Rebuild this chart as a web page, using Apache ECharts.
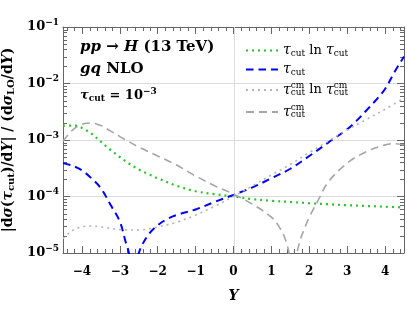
<!DOCTYPE html>
<html><head><meta charset="utf-8">
<script src="https://cdn.jsdelivr.net/npm/echarts@6/dist/echarts.min.js"></script>
<style>html,body{margin:0;padding:0;background:#fff}#c{width:407px;height:309px}</style>
</head><body><div id="c"></div>
<script>
// ---- data ----
const xTauLn = [-4.5,-4.25,-4.1,-3.9,-3.75,-3.5,-3.25,-3,-2.75,-2.5,-2.25,-2,-1.5,-1,-0.5,0,0.5,1,1.5,2,2.5,3,3.5,4,4.5];
const vTauLn = [1.8e-3,1.8e-3,1.75e-3,1.5e-3,1.3e-3,9.3e-4,6.7e-4,5.0e-4,3.8e-4,3.0e-4,2.5e-4,2.1e-4,1.55e-4,1.24e-4,1.1e-4,1.0e-4,9.0e-5,8.4e-5,8.0e-5,7.6e-5,7.3e-5,7.0e-5,6.8e-5,6.6e-5,6.4e-5];

const xTau = [-4.5,-4.25,-4,-3.75,-3.5,-3.25,-3,-2.85,-2.76,-2.7,-2.63,-2.56,-2.5,-2.25,-2,-1.75,-1.5,-1,-0.5,0,0.5,1,1.5,2,2.5,3,3.25,3.5,3.75,4,4.25,4.5];
const vTau = [3.9e-4,3.5e-4,2.9e-4,2.1e-4,1.4e-4,7.2e-5,3.6e-5,1.6e-5,1.0e-5,5e-6,5e-7,5e-6,1.0e-5,2.1e-5,3.1e-5,4.0e-5,4.7e-5,5.9e-5,8.0e-5,1.07e-4,1.45e-4,2.1e-4,3.1e-4,5.2e-4,9.0e-4,1.55e-3,2.2e-3,3.3e-3,5.0e-3,8.0e-3,1.6e-2,3.0e-2];

const xCmLn = [-4.5,-4.25,-4,-3.75,-3.5,-3,-2.5,-2,-1.5,-1,-0.5,0,0.5,1,1.5,2,2.5,3,3.5,4,4.5];
const vCmLn = [1.8e-5,2.5e-5,2.9e-5,3.0e-5,2.9e-5,2.6e-5,2.55e-5,2.9e-5,3.5e-5,4.7e-5,6.7e-5,1.0e-4,1.55e-4,2.4e-4,3.7e-4,6.0e-4,9.5e-4,1.5e-3,2.3e-3,3.5e-3,5.5e-3];

const xCm = [-4.5,-4.25,-4,-3.75,-3.5,-3.25,-3,-2.5,-2,-1.5,-1,-0.5,0,0.5,1,1.25,1.4,1.5,1.58,1.66,1.75,1.9,2,2.25,2.5,3,3.5,4,4.25,4.5];
const vCm = [9.5e-4,1.5e-3,1.9e-3,2.0e-3,1.8e-3,1.45e-3,1.15e-3,7.5e-4,5.2e-4,3.6e-4,2.3e-4,1.55e-4,1.1e-4,7.3e-5,4.3e-5,2.6e-5,1.5e-5,7e-6,5e-7,8e-6,1.6e-5,3.0e-5,4.3e-5,9.0e-5,1.8e-4,3.9e-4,6.2e-4,8.2e-4,8.6e-4,8.2e-4];

const seriesNames = ['tauLn','tau','cmLn','cm'];
const xMin = -4.5, xMax = 4.5, yMin = 1e-5, yMax = 1e-1;
const xGridLines = [0];
const yMinorTicks = [];
for (let e = -5; e <= -2; e++) for (let m = 2; m <= 9; m++) yMinorTicks.push(m * Math.pow(10, e));
const xMinorTicks = [];
for (let i = -22; i <= 22; i++) { if (i % 5 !== 0) xMinorTicks.push(i / 5); }

// ---- chart ----
const F = 'DejaVu Serif';
const AX = '#666';
const zip = (xs, vs) => xs.map((x, i) => [x, vs[i]]);
const chart = echarts.init(document.getElementById('c'), null, {renderer: 'canvas'});

const legendText = {
  tauLn: '{t|τ}{sb|cut}{n| ln }{t|τ}{sb|cut}',
  tau: '{t|τ}{sb|cut}',
  cmLn: '{t|τ}{sp|cm}{sb|cut}{n| ln }{t|τ}{sp|cm}{sb|cut}',
  cm: '{t|τ}{sp|cm}{sb|cut}'
};
const expLabel = v => {
  const e = Math.round(Math.log10(v));
  return '{b|10}{s|' + (e < 0 ? '−' + Math.abs(e) : e) + '}';
};

const tickData = yMinorTicks.map(v => [xMin, v, 0])
  .concat(xMinorTicks.map(v => [v, yMin, 1]))
  .concat(xGridLines.map(v => [v, yMin, 2]));

const lineSeries = (name, xs, vs, color, width, dash) => ({
  name, type: 'line', data: zip(xs, vs), symbol: 'none', showSymbol: false, smooth: 0.35,
  lineStyle: {color, width, type: dash, cap: 'butt'}, itemStyle: {color},
  z: 3, silent: true
});
const axisLine = {show: true, onZero: false, lineStyle: {color: AX, width: 1}};
const axisTick = {inside: true, length: 7, lineStyle: {color: AX}};

chart.setOption({
  animation: false,
  grid: {left: 63, right: 3, top: 27, bottom: 56, outerBoundsMode: 'none', containLabel: false},
  xAxis: [{
    type: 'value', min: xMin, max: xMax, splitNumber: 9,
    axisLine, axisTick, splitLine: {show: false},
    axisLabel: {showMinLabel: false, showMaxLabel: false, margin: 13, color: '#000',
      fontFamily: F, fontWeight: 'bold', fontSize: 12,
      formatter: v => (v < 0 ? '−' + Math.abs(v) : '' + v)},
    name: 'Y', nameLocation: 'middle', nameGap: 36,
    nameTextStyle: {fontFamily: F, fontWeight: 'bold', fontStyle: 'italic', fontSize: 14, color: '#000'}
  }, {
    type: 'value', min: xMin, max: xMax, splitNumber: 9, position: 'top',
    axisLine, axisTick, axisLabel: {show: false}, splitLine: {show: false}
  }],
  yAxis: [{
    type: 'log', logBase: 10, min: yMin, max: yMax,
    axisLine, axisTick,
    splitLine: {show: true, lineStyle: {color: '#dcdcdc', width: 1}},
    axisLabel: {margin: 4, color: '#000', formatter: expLabel,
      rich: {
        b: {fontFamily: F, fontWeight: 'bold', fontSize: 13, color: '#000'},
        s: {fontFamily: F, fontWeight: 'bold', fontSize: 9, color: '#000', padding: [0, 0, 9, 0]}
      }},
    name: '|d{si|σ}({t|τ}{sb|cut})/d{i|Y}| / (d{si|σ}{sb|LO}/d{i|Y})',
    nameLocation: 'middle', nameRotate: 90, nameGap: 44,
    nameTextStyle: {fontFamily: F, fontWeight: 'bold', fontSize: 14, color: '#000',
      rich: {
        si: {fontFamily: F, fontWeight: 'bold', fontStyle: 'italic', fontSize: 14, color: '#000'},
        t: {fontFamily: F, fontWeight: 'bold', fontStyle: 'italic', fontSize: 14, color: '#000'},
        i: {fontFamily: F, fontWeight: 'bold', fontStyle: 'italic', fontSize: 14, color: '#000'},
        sb: {fontFamily: F, fontWeight: 'bold', fontSize: 10, color: '#000', padding: [6, 0, 0, 0]}
      }}
  }, {
    type: 'log', logBase: 10, min: yMin, max: yMax, position: 'right',
    axisLine, axisTick, axisLabel: {show: false}, splitLine: {show: false}
  }],
  legend: {
    orient: 'vertical', left: 245, top: 43, padding: 0, itemWidth: 32, itemHeight: 14, itemGap: 4,
    data: seriesNames, selectedMode: false, itemStyle: {opacity: 0},
    formatter: n => legendText[n],
    textStyle: {fontFamily: F, fontSize: 13, color: '#000', lineHeight: 14,
      rich: {
        t: {fontFamily: F, fontStyle: 'italic', fontSize: 14, color: '#000', lineHeight: 14},
        n: {fontFamily: F, fontSize: 13, color: '#000', lineHeight: 14},
        sb: {fontFamily: F, fontSize: 9, color: '#000', padding: [6, 0, 0, 0], lineHeight: 14},
        sp: {fontFamily: F, fontSize: 9, color: '#000', padding: [0, 0, 9, 0], lineHeight: 14, width: 0}
      }}
  },
  graphic: [
    {type: 'text', left: 80, top: 40, z: 10, style: {
      text: '{i|pp} → {i|H} (13 TeV)', font: 'bold 15px "DejaVu Serif"', fill: '#000',
      rich: {i: {fontFamily: F, fontWeight: 'bold', fontStyle: 'italic', fontSize: 15, fill: '#000'}}}},
    {type: 'text', left: 80, top: 62, z: 10, style: {
      text: '{i|gq} NLO', font: 'bold 15px "DejaVu Serif"', fill: '#000',
      rich: {i: {fontFamily: F, fontWeight: 'bold', fontStyle: 'italic', fontSize: 15, fill: '#000'}}}},
    {type: 'text', left: 80, top: 87, z: 10, style: {
      text: '{t|τ}{sb|cut} = 10{sp|−3}', font: 'bold 13px "DejaVu Serif"', fill: '#000',
      rich: {
        t: {fontFamily: F, fontWeight: 'bold', fontStyle: 'italic', fontSize: 13, fill: '#000'},
        sb: {fontFamily: F, fontWeight: 'bold', fontSize: 9, fill: '#000', padding: [6, 0, 0, 0]},
        sp: {fontFamily: F, fontWeight: 'bold', fontSize: 9, fill: '#000', padding: [0, 0, 9, 0]}
      }}}
  ],
  series: [
    lineSeries('tauLn', xTauLn, vTauLn, '#2cc02c', 2.2, [2, 4]),
    lineSeries('tau', xTau, vTau, '#0000ff', 2, [7.5, 5]),
    lineSeries('cmLn', xCmLn, vCmLn, '#b4b4b4', 1.6, [2, 4]),
    lineSeries('cm', xCm, vCm, '#a6a6a6', 1.6, [8, 5]),
    {
      name: 'axisDecor', type: 'custom', data: tickData, silent: true, z: 1, clip: false,
      encode: {x: 0, y: 1},
      renderItem: (params, api) => {
        const kind = api.value(2);
        const style = {stroke: AX, lineWidth: 1};
        if (kind === 0) {
          const p = api.coord([xMin, api.value(1)]);
          const q = api.coord([xMax, api.value(1)]);
          const y = Math.round(p[1]) + 0.5;
          return {type: 'group', children: [
            {type: 'line', shape: {x1: p[0], y1: y, x2: p[0] + 4, y2: y}, style},
            {type: 'line', shape: {x1: q[0] - 4, y1: y, x2: q[0], y2: y}, style}
          ]};
        }
        const b = api.coord([api.value(0), yMin]);
        const t = api.coord([api.value(0), yMax]);
        const x = Math.round(b[0]) + 0.5;
        if (kind === 2) {
          return {type: 'line', shape: {x1: x, y1: b[1], x2: x, y2: t[1]},
            style: {stroke: '#dcdcdc', lineWidth: 1}};
        }
        return {type: 'group', children: [
          {type: 'line', shape: {x1: x, y1: b[1], x2: x, y2: b[1] - 4}, style},
          {type: 'line', shape: {x1: x, y1: t[1], x2: x, y2: t[1] + 4}, style}
        ]};
      }
    }
  ]
});
</script></body></html>
